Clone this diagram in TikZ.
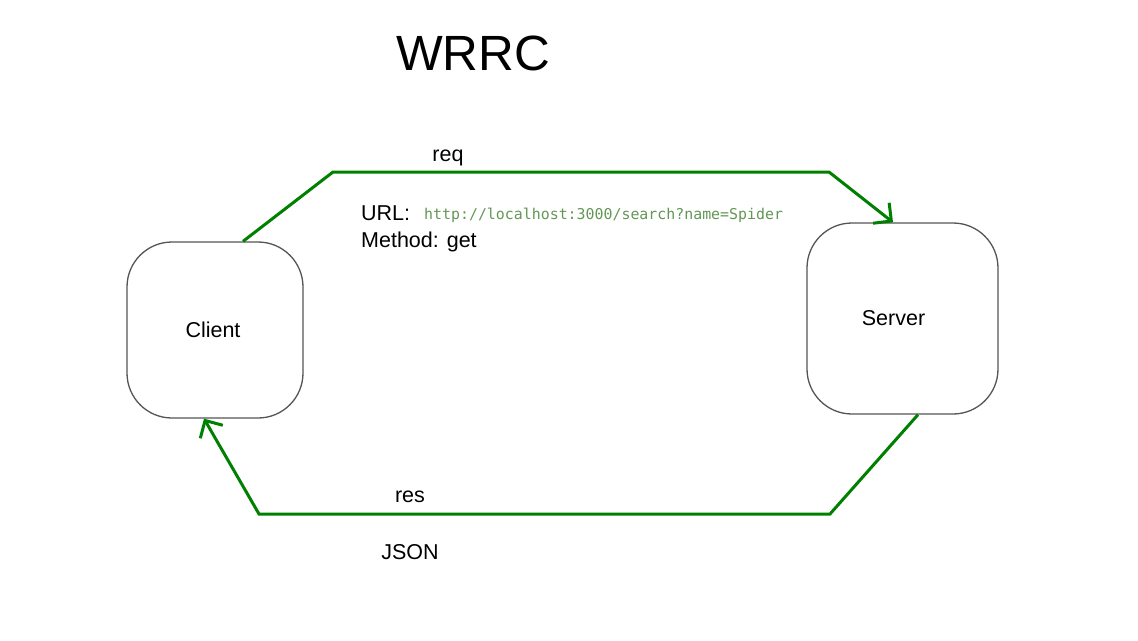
\documentclass[tikz,border=0pt]{standalone}
\usepackage{fontspec}
\setmainfont{Liberation Sans}
\newfontfamily\urlmono{DejaVu Sans Mono}
\usetikzlibrary{arrows.meta}
\definecolor{flowgreen}{RGB}{0,128,0}
\definecolor{urlgreen}{RGB}{98,151,85}
\definecolor{boxgrey}{RGB}{85,85,85}
\tikzset{
  endpoint/.style={draw=boxgrey, line width=1.3pt, rounded corners=45pt, minimum width=#1, minimum height=#1, inner sep=0pt, font=\fontsize{21.5}{24}\selectfont},
  flow/.style={draw=flowgreen, line width=3pt, -{Straight Barb[length=13pt,width=26pt,line width=3pt]}},
  lbl/.style={inner sep=0pt, font=\fontsize{21.5}{24}\selectfont},
}
\begin{document}
\begin{tikzpicture}[x=1pt,y=-1pt]
\useasboundingbox (0,0) rectangle (1138,640);
\node[inner sep=0pt, font=\fontsize{49.5}{56}\selectfont] (title) at (473,53) {WRRC};
\node[endpoint=176pt] (client) at (215,330) {\hspace*{-4pt}Client};
\node[endpoint=191pt] (server) at (902.5,318.5) {Server\hspace*{18pt}};
\coordinate (r1) at (333,172);
\coordinate (r2) at (829,172);
\coordinate (s1) at (830,514);
\coordinate (s2) at (259,514);
\draw[flow] ([xshift=28pt]client.north) -- (r1) -- (r2) -- ([xshift=-9.5pt]server.north);
\draw[flow] ([xshift=15.5pt]server.south) -- (s1) -- (s2) -- ([xshift=-11pt]client.south);
\node[lbl] (req) at (448,158) {req};
\node[lbl] (res) at (410,497) {res};
\node[lbl] (json) at (410,552) {JSON};
\node[lbl, anchor=base west] (urllbl) at (361,220) {URL:};
\node[inner sep=0pt, anchor=base west, text=urlgreen, font=\urlmono\fontsize{14.9}{18}\selectfont] (url) at (424,219) {http://localhost:3000/search?name=Spider};
\node[lbl, anchor=base west] (method) at (361,247) {Method: get};
\end{tikzpicture}
\end{document}
